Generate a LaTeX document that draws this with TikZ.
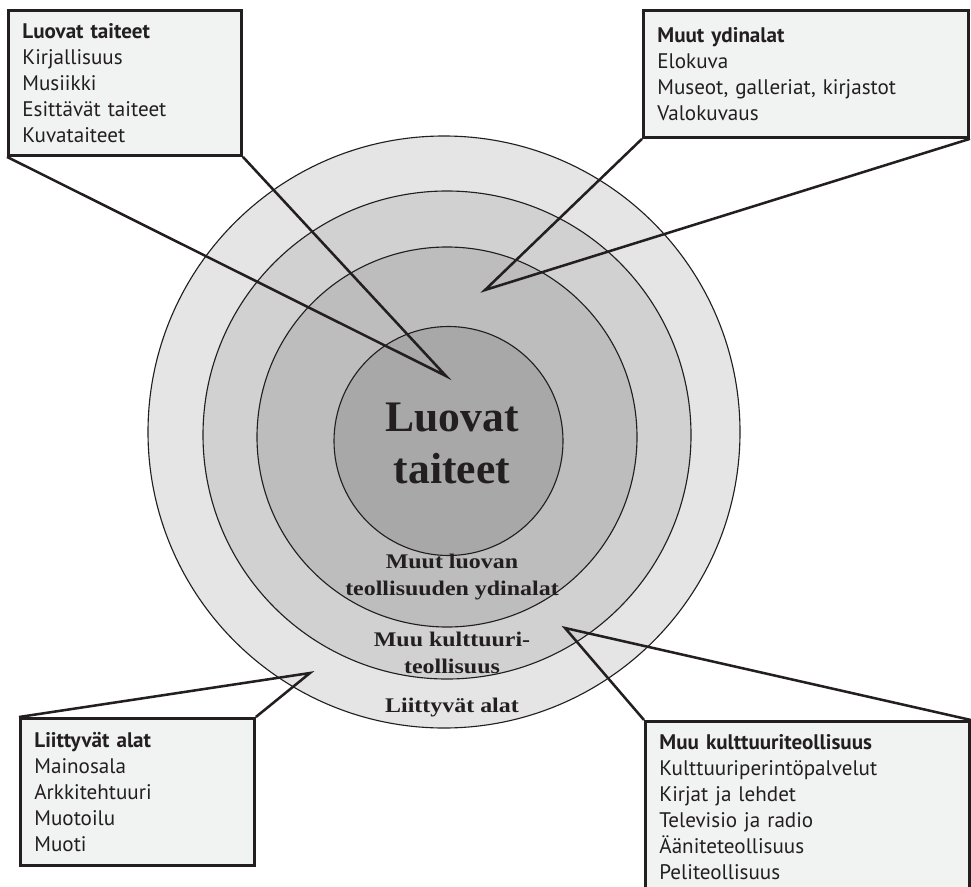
\documentclass[tikz,border=0pt]{standalone}
\usepackage{fontspec}
\setmainfont{Liberation Serif}
\newfontfamily\boxfont{PT Sans}
\newfontfamily\ringfont[FakeStretch=1.15]{Liberation Serif}

\definecolor{Ink}{HTML}{231F20}
\definecolor{BoxGrey}{HTML}{F1F2F2}

\begin{document}
\begin{tikzpicture}[x=0.025cm,y=-0.025cm,
  infobox/.style={draw=Ink,line width=2pt,fill=BoxGrey,anchor=north west,align=left,
    inner xsep=0.35cm,text=Ink,font=\boxfont\fontsize{15}{18.5}\selectfont},
  callout/.style={draw=Ink,line width=1.8pt},
  ring/.style={draw=Ink,line width=0.8pt},
  ringlabel/.style={anchor=base,align=center,text=Ink,font=\ringfont\bfseries\fontsize{14.8}{19}\selectfont},
  biglabel/.style={anchor=base,align=center,text=Ink,font=\bfseries\fontsize{31}{36.3}\selectfont}]

%Canvas
\useasboundingbox (0,0) rectangle (971,886);
\clip (0,0) rectangle (971,886);

%Defining grey colors
\colorlet{RingOuter}{black!10}
\colorlet{RingMid}{black!18}
\colorlet{RingInner}{black!26}
\colorlet{RingCore}{black!34}

%Rings
\draw [ring,fill=RingOuter] (444,432) circle [radius=296];
\draw [ring,fill=RingMid] (447,435) circle [radius=244];
\draw [ring,fill=RingInner] (447,437) circle [radius=190];
\draw [ring,fill=RingCore] (448.5,441) circle [radius=114.5];

%Ring labels (base = last line)
\node [biglabel] (core) at (452,483) {Luovat\\taiteet};
\node [ringlabel] (coreInd) at (452,595) {Muut luovan\\teollisuuden ydinalat};
\node [ringlabel] (cultInd) at (452,673) {Muu kulttuuri-\\teollisuus};
\node [ringlabel] (relInd) at (452,712) {Liittyvät alat};

%Callout tips
\coordinate (tipArts) at (446,376);
\coordinate (tipCore) at (485,290);
\coordinate (tipCult) at (565,628);
\coordinate (tipRel) at (310,673);

%Boxes
\node [infobox,text width=5.125cm,minimum height=3.625cm] (arts) at (7,9)
  {\textbf{Luovat taiteet}\\Kirjallisuus\\Musiikki\\Esittävät taiteet\\Kuvataiteet};
\node [infobox,text width=7.425cm,minimum height=3.175cm] (coreBox) at (642,9)
  {\textbf{Muut ydinalat}\\Elokuva\\Museot, galleriat, kirjastot\\Valokuvaus};
\node [infobox,text width=5.15cm,minimum height=3.675cm] (relBox) at (19,717)
  {\textbf{Liittyvät alat}\\Mainosala\\Arkkitehtuuri\\Muotoilu\\Muoti};
\node [infobox,text width=7.4cm,minimum height=4.3cm] (cultBox) at (644,720)
  {\textbf{Muu kulttuuriteollisuus}\\Kulttuuriperintöpalvelut\\Kirjat ja lehdet\\Televisio ja radio\\Ääniteteollisuus\\Peliteollisuus};

%Callouts
\draw [callout] (arts.south west) -- (tipArts) -- (arts.south east);
\draw [callout] (coreBox.south west) -- (tipCore) -- (coreBox.south east);
\draw [callout] (relBox.north west) -- (tipRel) -- (relBox.north east);
\draw [callout] (cultBox.north west) -- (tipCult) -- (cultBox.north east);

\end{tikzpicture}
\end{document}
